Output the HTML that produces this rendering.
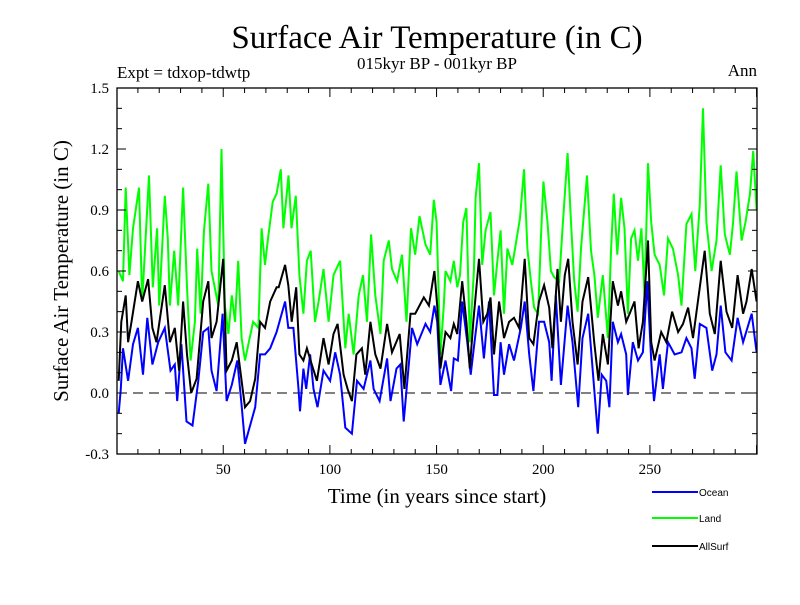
<!DOCTYPE html>
<html><head><meta charset="utf-8"><style>
body{margin:0;background:#fff}
svg text{font-family:"Liberation Serif",serif}
</style></head><body>
<svg id="chart" width="800" height="600" xmlns="http://www.w3.org/2000/svg">
<text x="437" y="48" font-size="33" text-anchor="middle">Surface Air Temperature (in C)</text>
<text x="437" y="69" font-size="17" text-anchor="middle">015kyr BP - 001kyr BP</text>
<text x="117" y="78" font-size="17">Expt = tdxop-tdwtp</text>
<text x="757" y="76" font-size="17" text-anchor="end">Ann</text>
<text x="437" y="503" font-size="21" text-anchor="middle">Time (in years since start)</text>
<text transform="translate(68,271) rotate(-90)" font-size="21" text-anchor="middle">Surface Air Temperature (in C)</text>
<g id="plot"></g>
<g id="legend"></g>
</svg>
<script>
const xTicks=[50,100,150,200,250];
const yTicks=[-0.3,0.0,0.3,0.6,0.9,1.2,1.5];
const seriesNames=["Ocean","Land","AllSurf"];
const seriesColors=["#0000ff","#00ff00","#000000"];
const landYears=[1,3,4.3,6,7.7,10.5,12,15.2,17,19,20,22.6,24,25,27,28.9,31.2,33,34.7,36.7,37.8,39.4,41,43,44.5,46,47.7,49.2,50.8,52.4,54,55.5,57,58.6,60.2,61.8,64,66.5,68,69.6,71,73.2,75,77,78.2,80.6,82,84,85.7,87.6,89.2,91,93,94.7,97,99.4,101.7,104.8,107.2,108.8,111.1,113.5,115.5,117.4,119.3,121.3,123.7,125.2,127.6,129.1,131.5,133.8,135.9,138,140,142,144.8,147,148.7,150,151.8,153.4,154.2,156.5,158.1,159.7,161,162.5,164,165.6,167.5,168.3,169.9,171.4,173,175.3,176.9,178.5,180,181.6,183.2,185.5,187.1,189.1,191,192.6,194.2,195.7,197.6,198.9,200.1,202,203.6,205.1,207.5,209,211.4,213,214.5,216.1,217.7,220.5,222.4,224,225.6,227.9,230.3,231.8,233.1,234.7,236.5,238.1,239.7,241.2,242.8,244.4,246,247.5,249.1,250.6,252.2,254.6,256.6,258.5,260.8,263.2,264.8,267.1,269.5,271.3,273.4,274.9,276.5,278.9,281.2,283.2,285.1,287.5,289,290.6,293,294.8,296.9,298.4,300];
const landValues=[0.60,0.55,1.01,0.58,0.81,1.01,0.45,1.07,0.52,0.81,0.43,0.97,0.76,0.43,0.70,0.43,1.01,0.52,0.16,0.35,0.71,0.39,0.80,1.03,0.60,0.52,0.43,1.20,0.43,0.29,0.48,0.35,0.65,0.27,0.16,0.24,0.35,0.32,0.81,0.63,0.76,0.94,0.98,1.10,0.81,1.07,0.81,0.97,0.58,0.39,0.65,0.70,0.35,0.45,0.61,0.35,0.58,0.65,0.22,0.39,0.19,0.48,0.58,0.35,0.78,0.48,0.29,0.65,0.75,0.61,0.55,0.68,0.35,0.81,0.68,0.87,0.73,0.68,0.95,0.84,0.19,0.43,0.60,0.55,0.65,0.52,0.58,0.84,0.91,0.25,0.60,0.96,1.13,0.63,0.80,0.89,0.48,0.65,0.80,0.39,0.71,0.63,0.73,0.86,1.10,0.71,0.55,0.42,0.39,0.76,1.04,0.84,0.60,0.57,0.55,0.80,1.18,0.84,0.55,0.40,0.71,1.07,0.70,0.58,0.37,0.58,0.27,0.71,0.98,0.68,0.96,0.81,0.39,0.76,0.80,0.65,0.81,0.48,1.13,0.84,0.68,0.63,0.48,0.76,0.71,0.58,0.43,0.83,0.88,0.60,0.93,1.40,0.84,0.60,0.75,1.12,0.78,0.68,0.84,1.09,0.75,0.84,0.98,1.19,0.90];
const allYears=[1,2.2,4.3,5.4,7,10,12,14.8,16.8,18.7,22.6,25,27.3,29.3,31.2,33,35,37.5,40.6,43,44.5,46.9,50,51.6,54,56.3,58.6,60.2,62.6,65,67.3,69.6,72,75,76,79,80.5,82.1,84.2,85.7,87.6,89.2,91.5,93.9,97,99.4,101.7,103.6,106.4,108.3,110.3,112.4,115,116.6,119,121.3,123.7,126.8,129.1,132.7,134.9,137.8,140,144,146.4,149,150.3,151.8,154.2,156.5,158.1,159.7,162,164,165.6,167.2,169.9,171.9,173.8,175.3,176.9,179.3,181.6,184,186.3,188.7,191.3,193.4,195.4,198,200.4,202.8,204.3,206.7,208.3,210.1,211.7,213.7,216.1,218.4,221.1,223.9,225.9,227.9,230.3,232.6,235,236.5,238.9,240.5,242.8,244.7,246.7,249.1,250.6,252.2,255.3,257.7,260.4,263.2,265.5,267.9,270.2,273.4,275.7,278.1,280.4,283.2,285.9,288.6,291.1,293.7,295.3,297.7,300];
const allValues=[0.06,0.35,0.48,0.25,0.35,0.55,0.45,0.56,0.32,0.25,0.53,0.25,0.32,0.11,0.45,0.19,0.0,0.07,0.45,0.55,0.27,0.35,0.66,0.11,0.16,0.25,0.06,-0.07,-0.04,0.07,0.35,0.32,0.45,0.52,0.52,0.63,0.53,0.35,0.52,0.19,0.16,0.22,0.14,0.06,0.27,0.14,0.29,0.34,0.09,0.02,-0.04,0.19,0.22,0.09,0.35,0.19,0.12,0.34,0.20,0.29,0.02,0.39,0.39,0.47,0.43,0.60,0.43,0.12,0.30,0.27,0.34,0.29,0.55,0.35,0.12,0.35,0.66,0.35,0.39,0.47,0.19,0.45,0.27,0.35,0.37,0.32,0.66,0.27,0.24,0.45,0.53,0.42,0.22,0.61,0.35,0.58,0.66,0.35,0.14,0.45,0.57,0.25,0.06,0.29,0.14,0.55,0.43,0.50,0.35,0.39,0.45,0.22,0.35,0.75,0.25,0.16,0.30,0.25,0.40,0.30,0.34,0.42,0.27,0.52,0.70,0.39,0.29,0.65,0.40,0.32,0.58,0.39,0.45,0.61,0.45];
const oceanYears=[1,2,3,5.4,7.7,10,12.4,14.4,16.8,19.5,22.6,25.3,27.3,28.4,30.4,32.8,35.6,38.3,40.6,43,44.5,46.9,49.7,51.6,54,56.6,58.6,60.2,62.6,65,67.3,69.6,72,75,79,80.5,82.9,85.3,86,87.6,88.9,90.7,92.3,94.2,97,100.1,102.5,104.8,107.2,110.3,112.7,115.8,119,120.5,123.3,126.8,128.4,131.2,133,134.6,137,138.5,140.9,144.8,147,149,150.3,151.8,154.2,156.8,158.1,160,162,164.4,166,167.8,169.9,172.2,174.6,176.9,178.5,180,181.6,184,186.3,189.5,191.3,193.4,195.4,198,200.4,202.8,203.9,205.9,208.3,211.4,213.7,216.4,218.4,221.1,223.9,225.6,227.4,229.5,231,232.6,235,236.5,238.9,239.7,242,244.4,246.7,248.8,250.6,251.9,254.6,256.1,258.5,261.6,264.8,267.1,269.5,271,273.4,276.5,279.2,281.2,283.2,285.4,288.3,291.1,293.7,297.7,300];
const oceanValues=[-0.1,0.02,0.22,0.06,0.24,0.32,0.09,0.37,0.14,0.25,0.32,0.11,0.14,-0.04,0.24,-0.14,-0.16,0.06,0.30,0.32,0.11,0.01,0.39,-0.04,0.04,0.16,-0.06,-0.25,-0.16,-0.07,0.19,0.19,0.22,0.30,0.45,0.32,0.32,0.02,-0.09,0.12,0.02,0.19,0.02,-0.07,0.11,0.06,0.20,0.09,-0.17,-0.20,0.06,0.02,0.16,0.02,-0.04,0.17,-0.04,0.12,0.14,-0.14,0.14,0.32,0.24,0.34,0.30,0.43,0.35,0.04,0.16,0.01,0.17,0.16,0.45,0.25,0.09,0.25,0.43,0.17,0.45,-0.01,-0.01,0.25,0.09,0.24,0.16,0.32,0.45,0.19,0.01,0.35,0.35,0.25,0.06,0.48,0.04,0.43,0.25,-0.07,0.27,0.39,0.02,-0.20,0.09,0.06,-0.07,0.35,0.25,0.29,0.19,-0.01,0.25,0.16,0.20,0.55,0.16,-0.04,0.19,0.02,0.25,0.19,0.20,0.27,0.22,0.07,0.34,0.32,0.11,0.19,0.43,0.20,0.16,0.37,0.25,0.39,0.20];

const NS="http://www.w3.org/2000/svg";
const L=117,R=757,T=88,B=454,X0=1,X1=301,Y0=-0.3,Y1=1.5;
const sx=v=>L+(v-X0)/(X1-X0)*(R-L)+1.7;
const sy=v=>B-(v-Y0)/(Y1-Y0)*(B-T);
const plot=document.getElementById('plot');
function mk(tag,attrs,parent){const e=document.createElementNS(NS,tag);for(const k in attrs)e.setAttribute(k,attrs[k]);(parent||plot).appendChild(e);return e;}

const zero=mk('line',{x1:L,x2:R,y1:sy(0),y2:sy(0),stroke:'#000','stroke-width':1,'stroke-dasharray':'10,6'});



const ys=[[oceanYears,oceanValues],[landYears,landValues],[allYears,allValues]];
const order=[1,0,2];
order.forEach(i=>{
  const [xs,vs]=ys[i];
  const d=xs.map((x,j)=>(j?'L':'M')+sx(x).toFixed(1)+','+sy(vs[j]).toFixed(1)).join('');
  const p=mk('path',{d:d,fill:'none',stroke:seriesColors[i],'stroke-width':2,'stroke-linejoin':'miter'});
  
  
});

const frame=mk('rect',{x:L,y:T,width:R-L,height:B-T,fill:'none',stroke:'#000','stroke-width':1.3});



for(let k=0;k<=18;k++){
  const v=Y0+k*0.1, y=sy(v), major=(k%3===0);
  const len=major?9:5;
  mk('line',{x1:L,x2:L+len,y1:y,y2:y,stroke:'#000'});
  mk('line',{x1:R-len,x2:R,y1:y,y2:y,stroke:'#000'});
}
for(let yr=10;yr<=300;yr+=10){
  const x=sx(yr), major=(yr%50===0), len=major?9:5;
  mk('line',{x1:x,x2:x,y1:B,y2:B-len,stroke:'#000'});
  mk('line',{x1:x,x2:x,y1:T,y2:T+len,stroke:'#000'});
}
yTicks.forEach(v=>{
  const t=mk('text',{x:L-8,y:sy(v)+5,'font-size':15,'text-anchor':'end'});
  t.textContent=v.toFixed(1);
  
  
});
xTicks.forEach(v=>{
  const t=mk('text',{x:sx(v),y:B+20,'font-size':15,'text-anchor':'middle'});
  t.textContent=v;
  
  
});

const lg=document.getElementById('legend');
[[0,492],[1,518],[2,546]].forEach(([i,y])=>{
  const g=mk('g',{},lg);
  
  
  mk('line',{x1:652,x2:698,y1:y,y2:y,stroke:seriesColors[i],'stroke-width':2},g);
  const t=mk('text',{x:699,y:y+4,'font-size':10,style:'font-family:"Liberation Sans",sans-serif'},g);
  t.textContent=seriesNames[i];
});
</script>
</body></html>
